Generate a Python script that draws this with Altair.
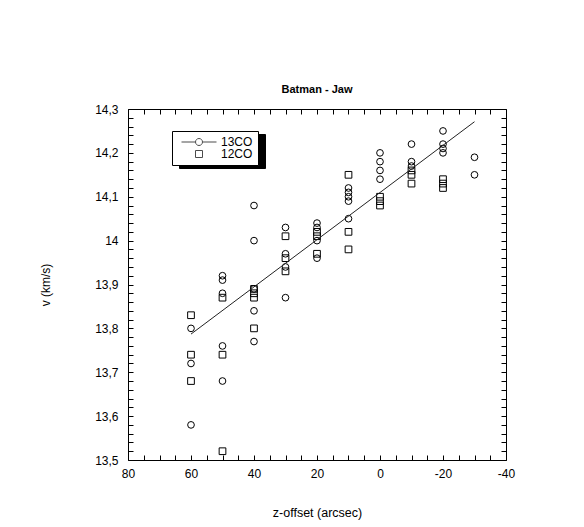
import altair as alt
import pandas as pd

# ---- data ----
# 13CO (circles)
x13 = [60, 60, 60,
       50, 50, 50, 50, 50,
       40, 40, 40, 40, 40,
       30, 30, 30, 30,
       20, 20, 20, 20,
       10, 10, 10, 10, 10,
       0, 0, 0, 0,
       -10, -10, -10,
       -20, -20, -20, -20,
       -30, -30]
v13 = [13.80, 13.72, 13.58,
       13.92, 13.91, 13.88, 13.76, 13.68,
       14.08, 14.00, 13.89, 13.84, 13.77,
       14.03, 13.97, 13.94, 13.87,
       14.04, 14.03, 14.00, 13.96,
       14.12, 14.11, 14.10, 14.09, 14.05,
       14.20, 14.18, 14.16, 14.14,
       14.22, 14.18, 14.17,
       14.25, 14.22, 14.21, 14.20,
       14.19, 14.15]
# 12CO (squares)
x12 = [60, 60, 60,
       50, 50, 50,
       40, 40, 40, 40,
       30, 30, 30,
       20, 20, 20,
       10, 10, 10,
       0, 0, 0,
       -10, -10, -10,
       -20, -20, -20]
v12 = [13.83, 13.74, 13.68,
       13.87, 13.74, 13.52,
       13.89, 13.88, 13.87, 13.80,
       14.01, 13.96, 13.93,
       14.02, 14.01, 13.97,
       14.15, 14.02, 13.98,
       14.10, 14.09, 14.08,
       14.16, 14.15, 14.13,
       14.14, 14.13, 14.12]
# fitted line (13CO)
fit_x = [60, -30]
fit_v = [13.787, 14.271]

series_names = ["13CO", "12CO"]
x_ticks = list(range(-40, 85, 5))
y_ticks = [round(13.5 + 0.02 * i, 2) for i in range(41)]

df = pd.DataFrame({
    "offset": x13 + x12,
    "v": v13 + v12,
    "series": [series_names[0]] * len(x13) + [series_names[1]] * len(x12),
})
fit_df = pd.DataFrame({"offset": fit_x, "v": fit_v})

FONT = "Liberation Sans"
LINE_CIRCLE = "M-5,0L-1,0M1,0L5,0M-1,0A1,1,0,1,1,1,0A1,1,0,1,1,-1,0"

x_scale = alt.Scale(domain=[-40, 80], reverse=True, nice=False, zero=False)
y_scale = alt.Scale(domain=[13.5, 14.3], nice=False, zero=False)

tick_common = dict(tickSize=5, offset=-5, domain=False, grid=False,
                   tickColor="black", tickWidth=1, labelOverlap=False,
                   labelFlush=False)

x_bottom = alt.Axis(orient="bottom", values=x_ticks,
                    labelExpr="datum.value % 20 == 0 ? '' + datum.value : ''",
                    labelFont=FONT, labelFontSize=12, labelColor="black",
                    labelPadding=8,
                    title="z-offset (arcsec)", titleFont=FONT, titleFontSize=12.5,
                    titleFontWeight="normal", titleColor="black", titlePadding=27,
                    **tick_common)
y_left = alt.Axis(orient="left", values=y_ticks,
                  labelExpr="abs(datum.value*10 - round(datum.value*10)) < 0.001 ? replace(format(datum.value, '~g'), '.', ',') : ''",
                  labelFont=FONT, labelFontSize=12, labelColor="black",
                  labelPadding=10,
                  title="v (km/s)", titleFont=FONT, titleFontSize=12,
                  titleFontWeight="normal", titleColor="black", titlePadding=42,
                  **tick_common)
x_top = alt.Axis(orient="top", values=x_ticks, labels=False, title=None, **tick_common)
y_right = alt.Axis(orient="right", values=y_ticks, labels=False, title=None, **tick_common)

points = alt.Chart(df).mark_point(filled=False, size=45, strokeWidth=1,
                                  color="black", opacity=1).encode(
    x=alt.X("offset:Q", scale=x_scale, axis=x_bottom),
    y=alt.Y("v:Q", scale=y_scale, axis=y_left),
    shape=alt.Shape("series:N",
                    scale=alt.Scale(domain=series_names, range=["circle", "square"]),
                    legend=None),
)

fit = alt.Chart(fit_df).mark_line(color="#222222", strokeWidth=1).encode(
    x=alt.X("offset:Q", scale=x_scale, axis=x_top),
    y=alt.Y("v:Q", scale=y_scale, axis=y_right),
)

legend_common = dict(title=None, orient="none", padding=5, symbolSize=49,
                     symbolStrokeWidth=1, symbolOffset=16, labelOffset=16,
                     labelFont=FONT, labelFontSize=12, rowPadding=0,
                     cornerRadius=0)

legend_layer = alt.Chart(df).transform_filter("false").mark_point(
    filled=False, size=49, color="black").encode(
    x=alt.X("offset:Q", scale=x_scale, axis=None),
    y=alt.Y("v:Q", scale=y_scale, axis=None),
    shape=alt.Shape("series:N",
                    scale=alt.Scale(domain=series_names, range=[LINE_CIRCLE, "square"]),
                    legend=alt.Legend(legendX=44, legendY=22, fillColor="white",
                                      strokeColor="black", symbolStrokeColor="black",
                                      symbolFillColor="transparent", labelColor="black",
                                      zindex=2, **legend_common)),
    color=alt.Color("shadow:N",
                    scale=alt.Scale(domain=["a", "b"], range=["black", "black"]),
                    legend=alt.Legend(legendX=51, legendY=25, fillColor="black",
                                      strokeColor="black", symbolOpacity=0,
                                      labelColor="black",
                                      labelExpr="datum.label == 'a' ? '13CO' : '12CO'",
                                      zindex=1, **legend_common)),
)

chart = alt.layer(points, fit, legend_layer).resolve_scale(
    shape="independent"
).properties(
    width=378, height=351,
    padding={"left": 128, "top": 109, "right": 78, "bottom": 67},
    autosize=alt.AutoSizeParams(type="none"),
    background="white",
    title=alt.Title("Batman - Jaw", font=FONT, fontSize=11, fontWeight="bold",
                    color="black", anchor="middle", offset=14, dy=17,
                    baseline="bottom"),
).configure_view(stroke="black", strokeWidth=1)

chart.save("out.html", embed_options={"renderer": "svg", "actions": False})
